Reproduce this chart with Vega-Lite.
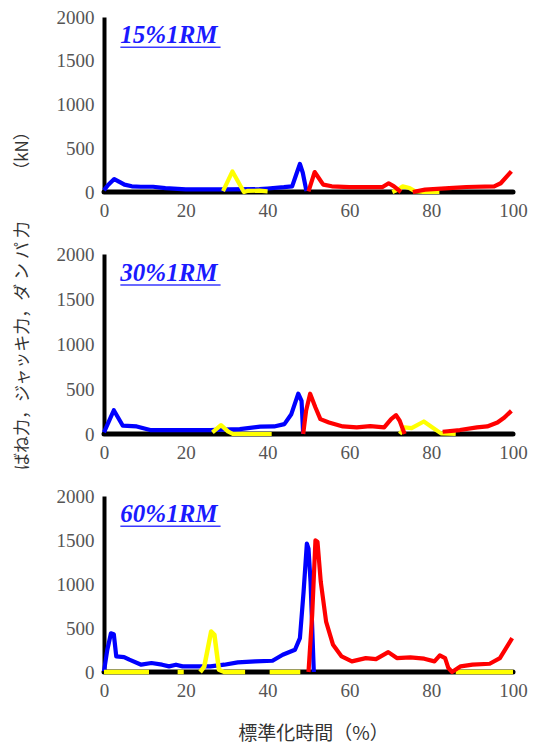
{
  "$schema": "https://vega.github.io/schema/vega-lite/v6.json",
  "background": "white",
  "padding": {"left": 12, "top": 8, "right": 0, "bottom": 0},
  "spacing": 62,
  "bounds": "flush",
  "config": {
    "view": {"stroke": null},
    "axis": {"grid": false}
  },
  "datasets": {
    "lines": [
      {"p":1,"s":"black","g":"k","x":0,"y":0},{"p":1,"s":"black","g":"k","x":100,"y":0},
      {"p":1,"s":"blue","g":"b","x":0,"y":20},{"p":1,"s":"blue","g":"b","x":1,"y":80},{"p":1,"s":"blue","g":"b","x":2.5,"y":148},{"p":1,"s":"blue","g":"b","x":4,"y":110},{"p":1,"s":"blue","g":"b","x":5,"y":84},{"p":1,"s":"blue","g":"b","x":6.8,"y":65},{"p":1,"s":"blue","g":"b","x":9,"y":60},{"p":1,"s":"blue","g":"b","x":12,"y":60},{"p":1,"s":"blue","g":"b","x":15,"y":45},{"p":1,"s":"blue","g":"b","x":20,"y":30},{"p":1,"s":"blue","g":"b","x":30,"y":30},{"p":1,"s":"blue","g":"b","x":38,"y":32},{"p":1,"s":"blue","g":"b","x":40,"y":40},{"p":1,"s":"blue","g":"b","x":44,"y":55},{"p":1,"s":"blue","g":"b","x":46,"y":65},{"p":1,"s":"blue","g":"b","x":47,"y":200},{"p":1,"s":"blue","g":"b","x":47.9,"y":320},{"p":1,"s":"blue","g":"b","x":48.6,"y":220},{"p":1,"s":"blue","g":"b","x":49.5,"y":10},
      {"p":1,"s":"yellow","g":"a","x":29.1,"y":10},{"p":1,"s":"yellow","g":"a","x":31.4,"y":235},{"p":1,"s":"yellow","g":"a","x":34.2,"y":0},{"p":1,"s":"yellow","g":"a","x":35,"y":12},{"p":1,"s":"yellow","g":"a","x":38,"y":15},{"p":1,"s":"yellow","g":"a","x":40,"y":8},
      {"p":1,"s":"yellow","g":"c","x":70.5,"y":0},{"p":1,"s":"yellow","g":"c","x":72,"y":30},{"p":1,"s":"yellow","g":"c","x":73,"y":65},{"p":1,"s":"yellow","g":"c","x":74.7,"y":45},{"p":1,"s":"yellow","g":"c","x":76,"y":10},{"p":1,"s":"yellow","g":"c","x":78,"y":0},{"p":1,"s":"yellow","g":"c","x":82,"y":0},
      {"p":1,"s":"red","g":"a","x":50,"y":8},{"p":1,"s":"red","g":"a","x":51.5,"y":228},{"p":1,"s":"red","g":"a","x":52.5,"y":160},{"p":1,"s":"red","g":"a","x":53.6,"y":84},{"p":1,"s":"red","g":"a","x":55.7,"y":65},{"p":1,"s":"red","g":"a","x":60,"y":55},{"p":1,"s":"red","g":"a","x":68,"y":55},{"p":1,"s":"red","g":"a","x":69.6,"y":100},{"p":1,"s":"red","g":"a","x":70.9,"y":65},{"p":1,"s":"red","g":"a","x":72.6,"y":0},
      {"p":1,"s":"red","g":"c","x":75.5,"y":0},{"p":1,"s":"red","g":"c","x":78.5,"y":27},{"p":1,"s":"red","g":"c","x":84.4,"y":45},{"p":1,"s":"red","g":"c","x":88.6,"y":57},{"p":1,"s":"red","g":"c","x":95.4,"y":65},{"p":1,"s":"red","g":"c","x":97,"y":100},{"p":1,"s":"red","g":"c","x":99.6,"y":235},

      {"p":2,"s":"black","g":"k","x":0,"y":0},{"p":2,"s":"black","g":"k","x":100,"y":0},
      {"p":2,"s":"blue","g":"b","x":0,"y":18},{"p":2,"s":"blue","g":"b","x":2.4,"y":264},{"p":2,"s":"blue","g":"b","x":4.6,"y":92},{"p":2,"s":"blue","g":"b","x":8,"y":84},{"p":2,"s":"blue","g":"b","x":11.3,"y":44},{"p":2,"s":"blue","g":"b","x":26,"y":44},{"p":2,"s":"blue","g":"b","x":29,"y":48},{"p":2,"s":"blue","g":"b","x":33.2,"y":55},{"p":2,"s":"blue","g":"b","x":38.2,"y":81},{"p":2,"s":"blue","g":"b","x":41.6,"y":84},{"p":2,"s":"blue","g":"b","x":44.1,"y":110},{"p":2,"s":"blue","g":"b","x":45.8,"y":220},{"p":2,"s":"blue","g":"b","x":47.5,"y":448},{"p":2,"s":"blue","g":"b","x":48.3,"y":367},{"p":2,"s":"blue","g":"b","x":48.7,"y":0},
      {"p":2,"s":"yellow","g":"a","x":26.5,"y":18},{"p":2,"s":"yellow","g":"a","x":28.6,"y":99},{"p":2,"s":"yellow","g":"a","x":30.3,"y":29},{"p":2,"s":"yellow","g":"a","x":31.5,"y":0},{"p":2,"s":"yellow","g":"a","x":41,"y":0},
      {"p":2,"s":"yellow","g":"c","x":72.3,"y":0},{"p":2,"s":"yellow","g":"c","x":73.5,"y":73},{"p":2,"s":"yellow","g":"c","x":75.2,"y":66},{"p":2,"s":"yellow","g":"c","x":78.2,"y":139},{"p":2,"s":"yellow","g":"c","x":80.3,"y":73},{"p":2,"s":"yellow","g":"c","x":82.4,"y":7},{"p":2,"s":"yellow","g":"c","x":86,"y":0},
      {"p":2,"s":"red","g":"a","x":48.7,"y":0},{"p":2,"s":"red","g":"a","x":49.4,"y":257},{"p":2,"s":"red","g":"a","x":50.4,"y":448},{"p":2,"s":"red","g":"a","x":51.7,"y":294},{"p":2,"s":"red","g":"a","x":52.9,"y":165},{"p":2,"s":"red","g":"a","x":55,"y":128},{"p":2,"s":"red","g":"a","x":58.4,"y":84},{"p":2,"s":"red","g":"a","x":61.8,"y":73},{"p":2,"s":"red","g":"a","x":65.1,"y":88},{"p":2,"s":"red","g":"a","x":68.5,"y":73},{"p":2,"s":"red","g":"a","x":70.2,"y":165},{"p":2,"s":"red","g":"a","x":71.4,"y":209},{"p":2,"s":"red","g":"a","x":72.3,"y":147},{"p":2,"s":"red","g":"a","x":73.5,"y":0},
      {"p":2,"s":"red","g":"c","x":82.8,"y":25},{"p":2,"s":"red","g":"c","x":87,"y":44},{"p":2,"s":"red","g":"c","x":91.2,"y":73},{"p":2,"s":"red","g":"c","x":93.7,"y":84},{"p":2,"s":"red","g":"c","x":96.2,"y":128},{"p":2,"s":"red","g":"c","x":97.9,"y":183},{"p":2,"s":"red","g":"c","x":99.6,"y":257},

      {"p":3,"s":"black","g":"k","x":0,"y":0},{"p":3,"s":"black","g":"k","x":100,"y":0},
      {"p":3,"s":"blue","g":"b","x":0,"y":8},{"p":3,"s":"blue","g":"b","x":0.8,"y":250},{"p":3,"s":"blue","g":"b","x":1.7,"y":440},{"p":3,"s":"blue","g":"b","x":2.4,"y":430},{"p":3,"s":"blue","g":"b","x":3,"y":177},{"p":3,"s":"blue","g":"b","x":4.9,"y":170},{"p":3,"s":"blue","g":"b","x":6.2,"y":140},{"p":3,"s":"blue","g":"b","x":9.1,"y":83},{"p":3,"s":"blue","g":"b","x":11.6,"y":102},{"p":3,"s":"blue","g":"b","x":14.2,"y":83},{"p":3,"s":"blue","g":"b","x":15.9,"y":64},{"p":3,"s":"blue","g":"b","x":17.6,"y":83},{"p":3,"s":"blue","g":"b","x":19.2,"y":64},{"p":3,"s":"blue","g":"b","x":22.6,"y":64},{"p":3,"s":"blue","g":"b","x":26,"y":64},{"p":3,"s":"blue","g":"b","x":29.4,"y":83},{"p":3,"s":"blue","g":"b","x":32.7,"y":109},{"p":3,"s":"blue","g":"b","x":37,"y":120},{"p":3,"s":"blue","g":"b","x":41.2,"y":128},{"p":3,"s":"blue","g":"b","x":43.7,"y":196},{"p":3,"s":"blue","g":"b","x":46.7,"y":253},{"p":3,"s":"blue","g":"b","x":47.9,"y":385},{"p":3,"s":"blue","g":"b","x":48.8,"y":912},{"p":3,"s":"blue","g":"b","x":49.6,"y":1459},{"p":3,"s":"blue","g":"b","x":50,"y":1402},{"p":3,"s":"blue","g":"b","x":50.5,"y":1025},{"p":3,"s":"blue","g":"b","x":51.3,"y":0},
      {"p":3,"s":"yellow","g":"a","x":0,"y":0},{"p":3,"s":"yellow","g":"a","x":11,"y":0},
      {"p":3,"s":"yellow","g":"b","x":18,"y":0},{"p":3,"s":"yellow","g":"b","x":19.5,"y":0},
      {"p":3,"s":"yellow","g":"c","x":23.5,"y":0},{"p":3,"s":"yellow","g":"c","x":24.5,"y":60},{"p":3,"s":"yellow","g":"c","x":26.2,"y":460},{"p":3,"s":"yellow","g":"c","x":27,"y":422},{"p":3,"s":"yellow","g":"c","x":28.1,"y":26},{"p":3,"s":"yellow","g":"c","x":29.4,"y":0},{"p":3,"s":"yellow","g":"c","x":34.5,"y":0},
      {"p":3,"s":"yellow","g":"d","x":40.5,"y":0},{"p":3,"s":"yellow","g":"d","x":48,"y":0},
      {"p":3,"s":"yellow","g":"e","x":86,"y":0},{"p":3,"s":"yellow","g":"e","x":100,"y":0},
      {"p":3,"s":"red","g":"a","x":50,"y":0},{"p":3,"s":"red","g":"a","x":50.9,"y":648},{"p":3,"s":"red","g":"a","x":51.7,"y":1497},{"p":3,"s":"red","g":"a","x":52.2,"y":1478},{"p":3,"s":"red","g":"a","x":53,"y":1025},{"p":3,"s":"red","g":"a","x":54.3,"y":573},{"p":3,"s":"red","g":"a","x":56,"y":309},{"p":3,"s":"red","g":"a","x":58.1,"y":177},{"p":3,"s":"red","g":"a","x":60.6,"y":121},{"p":3,"s":"red","g":"a","x":64,"y":158},{"p":3,"s":"red","g":"a","x":66.5,"y":147},{"p":3,"s":"red","g":"a","x":69.5,"y":226},{"p":3,"s":"red","g":"a","x":71.6,"y":158},{"p":3,"s":"red","g":"a","x":74.9,"y":166},{"p":3,"s":"red","g":"a","x":78.3,"y":151},{"p":3,"s":"red","g":"a","x":80.8,"y":121},{"p":3,"s":"red","g":"a","x":82.1,"y":188},{"p":3,"s":"red","g":"a","x":83.4,"y":158},{"p":3,"s":"red","g":"a","x":84.2,"y":45},{"p":3,"s":"red","g":"a","x":85.1,"y":0},{"p":3,"s":"red","g":"a","x":87.2,"y":64},{"p":3,"s":"red","g":"a","x":90.1,"y":83},{"p":3,"s":"red","g":"a","x":94.3,"y":94},{"p":3,"s":"red","g":"a","x":96.8,"y":158},{"p":3,"s":"red","g":"a","x":99.8,"y":385}
    ],
    "labels": [
      {"p":1,"label":"15%1RM","x":4,"x2":28.5,"y":1700,"yu":1655},
      {"p":2,"label":"30%1RM","x":4,"x2":28.5,"y":1700,"yu":1655},
      {"p":3,"label":"60%1RM","x":4,"x2":28.5,"y":1700,"yu":1655}
    ]
  },
  "vconcat": [
    {
      "width": 409, "height": 175,
      "encoding": {
        "x": {"field":"x","type":"quantitative","scale":{"domain":[0,100]},
              "axis":{"values":[0,20,40,60,80,100],"domain":false,"ticks":false,"labelFlush":false,"labelFont":"Liberation Serif","labelFontSize":19,"labelColor":"#555","labelPadding":9,"labelDx":4,"title":null}},
        "y": {"field":"y","type":"quantitative","scale":{"domain":[0,2000]},
              "axis":{"values":[0,500,1000,1500,2000],"format":"d","domain":true,"domainColor":"black","domainWidth":4,"ticks":false,"labelFont":"Liberation Serif","labelFontSize":19,"labelColor":"#555","labelPadding":10,"labelDy":4,"title":null}}
      },
      "layer": [
        {"data":{"name":"lines"},"transform":[{"filter":"datum.p==1 && datum.s=='black'"}],"mark":{"type":"line","color":"black","strokeWidth":5,"strokeCap":"round"},"encoding":{"detail":{"field":"g"}}},
        {"data":{"name":"lines"},"transform":[{"filter":"datum.p==1 && datum.s=='blue'"}],"mark":{"type":"line","color":"#0000ff","strokeWidth":4.2,"strokeJoin":"round"},"encoding":{"detail":{"field":"g"}}},
        {"data":{"name":"lines"},"transform":[{"filter":"datum.p==1 && datum.s=='yellow'"}],"mark":{"type":"line","color":"#ffff00","strokeWidth":4.2,"strokeJoin":"round"},"encoding":{"detail":{"field":"g"}}},
        {"data":{"name":"lines"},"transform":[{"filter":"datum.p==1 && datum.s=='red'"}],"mark":{"type":"line","color":"#ff0000","strokeWidth":4.2,"strokeJoin":"round"},"encoding":{"detail":{"field":"g"}}},
        {"data":{"name":"labels"},"transform":[{"filter":"datum.p==1"}],"mark":{"type":"text","align":"left","baseline":"alphabetic","font":"Liberation Serif","fontStyle":"italic","fontWeight":"bold","fontSize":25,"color":"#1a1aff"},"encoding":{"text":{"field":"label"}}},
        {"data":{"name":"labels"},"transform":[{"filter":"datum.p==1"}],"mark":{"type":"rule","color":"#3a3aff","strokeWidth":1.5},"encoding":{"x2":{"field":"x2"},"y":{"field":"yu","type":"quantitative"}}}
      ]
    },
    {
      "width": 409, "height": 180,
      "encoding": {
        "x": {"field":"x","type":"quantitative","scale":{"domain":[0,100]},
              "axis":{"values":[0,20,40,60,80,100],"domain":false,"ticks":false,"labelFlush":false,"labelFont":"Liberation Serif","labelFontSize":19,"labelColor":"#555","labelPadding":9,"labelDx":4,"title":null}},
        "y": {"field":"y","type":"quantitative","scale":{"domain":[0,2000]},
              "axis":{"values":[0,500,1000,1500,2000],"format":"d","domain":true,"domainColor":"black","domainWidth":4,"ticks":false,"labelFont":"Liberation Serif","labelFontSize":19,"labelColor":"#555","labelPadding":10,"labelDy":4,
                      "title":"ばね力，ジャッキ力，ダ ン パ 力　　　（kN）","titleFont":"Noto Sans CJK JP","titleFontSize":17,"titleFontWeight":"normal","titleColor":"#333","titleLimit":1000,"titleX":-82,"titleY":42,"titleBaseline":"middle","titleAlign":"center","titleAngle":-90}}
      },
      "layer": [
        {"data":{"name":"lines"},"transform":[{"filter":"datum.p==2 && datum.s=='black'"}],"mark":{"type":"line","color":"black","strokeWidth":5,"strokeCap":"round"},"encoding":{"detail":{"field":"g"}}},
        {"data":{"name":"lines"},"transform":[{"filter":"datum.p==2 && datum.s=='blue'"}],"mark":{"type":"line","color":"#0000ff","strokeWidth":4.2,"strokeJoin":"round"},"encoding":{"detail":{"field":"g"}}},
        {"data":{"name":"lines"},"transform":[{"filter":"datum.p==2 && datum.s=='yellow'"}],"mark":{"type":"line","color":"#ffff00","strokeWidth":4.2,"strokeJoin":"round"},"encoding":{"detail":{"field":"g"}}},
        {"data":{"name":"lines"},"transform":[{"filter":"datum.p==2 && datum.s=='red'"}],"mark":{"type":"line","color":"#ff0000","strokeWidth":4.2,"strokeJoin":"round"},"encoding":{"detail":{"field":"g"}}},
        {"data":{"name":"labels"},"transform":[{"filter":"datum.p==2"}],"mark":{"type":"text","align":"left","baseline":"alphabetic","font":"Liberation Serif","fontStyle":"italic","fontWeight":"bold","fontSize":25,"color":"#1a1aff"},"encoding":{"text":{"field":"label"}}},
        {"data":{"name":"labels"},"transform":[{"filter":"datum.p==2"}],"mark":{"type":"rule","color":"#3a3aff","strokeWidth":1.5},"encoding":{"x2":{"field":"x2"},"y":{"field":"yu","type":"quantitative"}}}
      ]
    },
    {
      "width": 409, "height": 176,
      "encoding": {
        "x": {"field":"x","type":"quantitative","scale":{"domain":[0,100]},
              "axis":{"values":[0,20,40,60,80,100],"domain":false,"ticks":false,"labelFlush":false,"labelFont":"Liberation Serif","labelFontSize":19,"labelColor":"#555","labelPadding":9,"labelDx":4,
                      "title":"標準化時間（%）","titleFont":"Noto Sans CJK JP","titleFontSize":19,"titleFontWeight":"normal","titleColor":"#333","titleX":209,"titleY":61,"titleBaseline":"middle","titleAlign":"center"}},
        "y": {"field":"y","type":"quantitative","scale":{"domain":[0,2000]},
              "axis":{"values":[0,500,1000,1500,2000],"format":"d","domain":true,"domainColor":"black","domainWidth":4,"ticks":false,"labelFont":"Liberation Serif","labelFontSize":19,"labelColor":"#555","labelPadding":10,"labelDy":4,"title":null}}
      },
      "layer": [
        {"data":{"name":"lines"},"transform":[{"filter":"datum.p==3 && datum.s=='black'"}],"mark":{"type":"line","color":"black","strokeWidth":5,"strokeCap":"round"},"encoding":{"detail":{"field":"g"}}},
        {"data":{"name":"lines"},"transform":[{"filter":"datum.p==3 && datum.s=='blue'"}],"mark":{"type":"line","color":"#0000ff","strokeWidth":4.2,"strokeJoin":"round"},"encoding":{"detail":{"field":"g"}}},
        {"data":{"name":"lines"},"transform":[{"filter":"datum.p==3 && datum.s=='yellow'"}],"mark":{"type":"line","color":"#ffff00","strokeWidth":4.5,"strokeJoin":"round"},"encoding":{"detail":{"field":"g"}}},
        {"data":{"name":"lines"},"transform":[{"filter":"datum.p==3 && datum.s=='red'"}],"mark":{"type":"line","color":"#ff0000","strokeWidth":4.2,"strokeJoin":"round"},"encoding":{"detail":{"field":"g"}}},
        {"data":{"name":"labels"},"transform":[{"filter":"datum.p==3"}],"mark":{"type":"text","align":"left","baseline":"alphabetic","font":"Liberation Serif","fontStyle":"italic","fontWeight":"bold","fontSize":25,"color":"#1a1aff"},"encoding":{"text":{"field":"label"}}},
        {"data":{"name":"labels"},"transform":[{"filter":"datum.p==3"}],"mark":{"type":"rule","color":"#3a3aff","strokeWidth":1.5},"encoding":{"x2":{"field":"x2"},"y":{"field":"yu","type":"quantitative"}}}
      ]
    }
  ]
}
